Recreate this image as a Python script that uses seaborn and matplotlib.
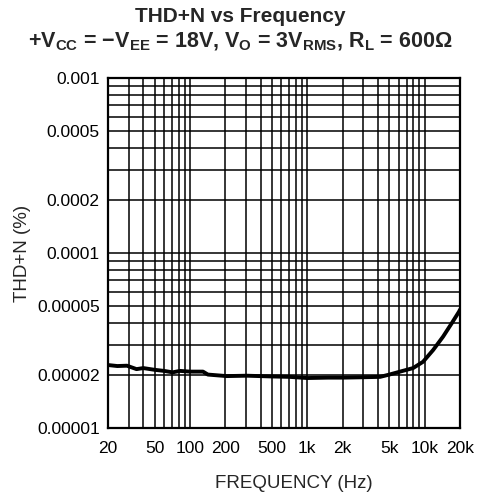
import numpy as np
import pandas as pd
import matplotlib
matplotlib.use("Agg")
import matplotlib.pyplot as plt
import seaborn as sns
from matplotlib.ticker import FixedLocator, NullFormatter

# values
freq_hz = [20, 24, 29, 35, 40, 50, 60, 71, 82, 100, 129, 142, 205, 305,
           500, 700, 1000, 1500, 2000, 3000, 4170, 5000, 6170, 7960,
           9680, 11800, 14350, 17000, 19600, 20000]
thd_pct = [2.29e-5, 2.26e-5, 2.27e-5, 2.17e-5, 2.20e-5, 2.15e-5, 2.12e-5,
           2.08e-5, 2.12e-5, 2.10e-5, 2.10e-5, 2.02e-5, 1.98e-5, 1.99e-5,
           1.97e-5, 1.96e-5, 1.93e-5, 1.94e-5, 1.94e-5, 1.95e-5, 1.96e-5,
           2.02e-5, 2.10e-5, 2.20e-5, 2.39e-5, 2.79e-5, 3.33e-5, 3.97e-5,
           4.62e-5, 4.75e-5]

x_ticks = [20, 50, 100, 200, 500, 1000, 2000, 5000, 10000, 20000]
x_labels = ['20', '50', '100', '200', '500', '1k', '2k', '5k', '10k', '20k']
y_ticks = [1e-5, 2e-5, 5e-5, 1e-4, 2e-4, 5e-4, 1e-3]
y_labels = ['0.00001', '0.00002', '0.00005', '0.0001', '0.0002', '0.0005', '0.001']

sns.set_style("white")
plt.rcParams['font.family'] = ['Liberation Sans', 'DejaVu Sans']
plt.rcParams['mathtext.fontset'] = 'custom'
plt.rcParams['mathtext.rm'] = 'Liberation Sans:bold'
plt.rcParams['mathtext.default'] = 'rm'

df = pd.DataFrame({'freq': freq_hz, 'thd': thd_pct})

fig = plt.figure(figsize=(4.85, 5.01), dpi=100)
ax = fig.add_axes([0.2227, 0.1457, 0.7258, 0.6986])

sns.lineplot(data=df, x='freq', y='thd', ax=ax, color='black', linewidth=2.8)

ax.set_xscale('log')
ax.set_yscale('log')
ax.set_xlim(20, 20000)
ax.set_ylim(1e-5, 1e-3)

# grid on every decade subdivision
x_grid = [m * 10 ** d for d in range(1, 5) for m in range(1, 10)
          if 20 <= m * 10 ** d <= 20000]
y_grid = [m * 10.0 ** d for d in range(-5, -2) for m in range(1, 10)
          if 1e-5 <= m * 10.0 ** d <= 1e-3]
ax.xaxis.set_major_locator(FixedLocator(x_ticks))
ax.xaxis.set_minor_locator(FixedLocator(x_grid))
ax.yaxis.set_major_locator(FixedLocator(y_ticks))
ax.yaxis.set_minor_locator(FixedLocator(y_grid))
ax.xaxis.set_minor_formatter(NullFormatter())
ax.yaxis.set_minor_formatter(NullFormatter())
ax.set_xticklabels(x_labels)
ax.set_yticklabels(y_labels)
ax.grid(True, which='both', color='black', linewidth=1.1)
ax.tick_params(which='both', length=0, labelsize=12.5, colors='black')
ax.tick_params(axis='x', pad=9)
ax.tick_params(axis='y', pad=6)
for s in ax.spines.values():
    s.set_color('black')
    s.set_linewidth(1.6)

ax.set_xlabel('FREQUENCY (Hz)', fontsize=13.5)
ax.xaxis.set_label_coords(0.528, -0.135)
ax.set_ylabel('THD+N (%)', fontsize=13.5)
ax.yaxis.set_label_coords(-0.22, 0.5)

cx = 0.495
fig.text(cx, 0.956, 'THD+N vs Frequency', ha='center', va='baseline',
         fontsize=15, weight='bold')
fig.text(cx, 0.906,
         '+V$_{CC}$ = \u2212V$_{EE}$ = 18V, V$_{O}$ = 3V$_{RMS}$, R$_{L}$ = 600\u03a9',
         ha='center', va='baseline', fontsize=15.5, weight='bold')

fig.savefig('out.png', dpi=100)
